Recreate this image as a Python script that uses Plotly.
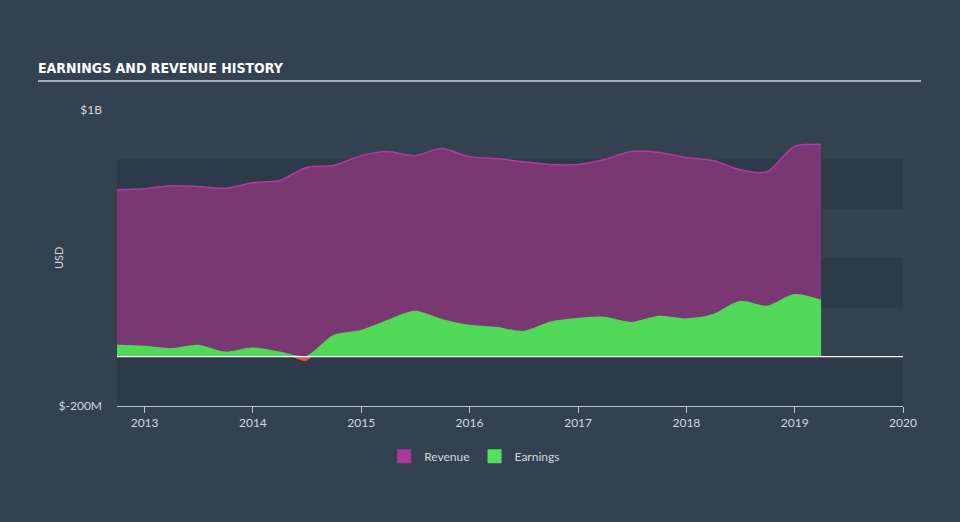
import plotly.graph_objects as go
import pandas as pd

# Quarter-end dates
dates = pd.date_range("2012-09-30", "2019-03-31", freq="QE").strftime("%Y-%m-%d").tolist()

# Revenue (USD millions)
revenue = [677, 681, 693, 690, 683, 705, 714, 767, 775, 815, 832, 815, 844,
           811, 803, 790, 779, 779, 799, 832, 828, 807, 795, 758, 750, 852, 860]
# Earnings (USD millions)
earnings = [45, 41, 32, 45, 18, 34, 18, -16, 85, 105, 146, 183, 150,
            126, 118, 101, 140, 154, 159, 138, 163, 153, 170, 223, 204, 251, 228]

x_tick_vals = ["2013-01-01", "2014-01-01", "2015-01-01", "2016-01-01",
               "2017-01-01", "2018-01-01", "2019-01-01", "2020-01-01"]
x_tick_text = ["2013", "2014", "2015", "2016", "2017", "2018", "2019", "2020"]
y_tick_vals = [-200e6, 1000e6]
y_tick_text = ["$-200M", "$1B"]
band_ranges = [(-200e6, 0), (200e6, 400e6), (600e6, 800e6)]

BG = "#334150"
BAND = "#2d3a49"
TXT = "#d3d7dc"
FONT = "Lato, Noto Sans, sans-serif"

rev_usd = [v * 1e6 for v in revenue]
earn_pos = [max(v, 0) * 1e6 for v in earnings]

# loss segment with zero crossings interpolated
dt = pd.to_datetime(dates)
loss_x, loss_y = [], []
for i, v in enumerate(earnings):
    if v < 0:
        if i > 0 and not loss_x:
            a = earnings[i - 1]
            f = a / (a - v)
            loss_x.append(dt[i - 1] + (dt[i] - dt[i - 1]) * f)
            loss_y.append(0)
        loss_x.append(dt[i])
        loss_y.append(v * 1e6)
        if i + 1 < len(earnings) and earnings[i + 1] >= 0:
            b = earnings[i + 1]
            f = (-v) / (b - v)
            loss_x.append(dt[i] + (dt[i + 1] - dt[i]) * f)
            loss_y.append(0)

fig = go.Figure()
fig.add_trace(go.Scatter(
    x=dates, y=rev_usd, name="Revenue", mode="lines", showlegend=False,
    line=dict(color="#b5399f", width=1.5, shape="spline", smoothing=0.8),
    fill="tozeroy", fillcolor="#7a3873"))
fig.add_trace(go.Scatter(
    x=dates, y=earn_pos, name="Earnings", mode="lines", showlegend=False,
    line=dict(color="#52d558", width=1.5, shape="spline", smoothing=0.8),
    fill="tozeroy", fillcolor="#52d858"))
fig.add_trace(go.Scatter(
    x=loss_x, y=loss_y, name="Loss", mode="lines", showlegend=False,
    line=dict(color="#e8504e", width=1, shape="spline", smoothing=1),
    fill="tozeroy", fillcolor="#e8504e"))
# legend entries with square swatches
fig.add_trace(go.Scatter(x=[None], y=[None], name="Revenue", mode="markers",
                         marker=dict(symbol="square", size=14, color="#a93a98")))
fig.add_trace(go.Scatter(x=[None], y=[None], name="Earnings", mode="markers",
                         marker=dict(symbol="square", size=14, color="#53e05a")))

shapes = []
for y0, y1 in band_ranges:
    shapes.append(dict(type="rect", xref="paper", yref="y", x0=0, x1=1, y0=y0, y1=y1,
                       fillcolor=BAND, line=dict(width=0), layer="below"))
shapes.append(dict(type="line", xref="paper", yref="y", x0=0, x1=1, y0=0, y1=0,
                   line=dict(color="#ffffff", width=1.2), layer="above"))
shapes.append(dict(type="line", xref="paper", yref="paper",
                   x0=(38 - 117) / 786, x1=(921 - 117) / 786,
                   y0=(406 - 81) / 296, y1=(406 - 81) / 296,
                   line=dict(color="#a9afb7", width=2)))

fig.update_layout(
    width=960, height=522,
    margin=dict(l=117, r=57, t=110, b=116),
    paper_bgcolor=BG, plot_bgcolor=BG,
    shapes=shapes,
    showlegend=True,
    legend=dict(orientation="h", x=0.455, xanchor="center", y=-0.17, yanchor="middle",
                font=dict(color=TXT, size=12, family=FONT),
                bgcolor="rgba(0,0,0,0)", itemwidth=30),
    title=dict(text="<b>EARNINGS AND REVENUE HISTORY</b>", xref="container", yref="container",
               x=38 / 960, xanchor="left", y=1 - 68 / 522, yanchor="middle",
               font=dict(color="#ffffff", size=14, family="DejaVu Sans Condensed, sans-serif")),
    font=dict(family=FONT, color=TXT),
    annotations=[dict(text="USD", xref="paper", yref="paper",
                      x=(58 - 117) / 786, y=(406 - 258) / 296, textangle=-90,
                      showarrow=False, xanchor="center", yanchor="middle",
                      font=dict(size=11, color=TXT, family=FONT))],
)
fig.update_xaxes(
    type="date", range=["2012-09-30", "2020-01-01"],
    tickvals=x_tick_vals, ticktext=x_tick_text,
    showgrid=False, zeroline=False,
    showline=True, linecolor="#b9c3cf", linewidth=1,
    ticks="outside", ticklen=6, tickcolor="#b9c3cf",
    tickfont=dict(size=12, color=TXT),
)
fig.update_yaxes(
    range=[-200e6, 1000e6], tickvals=y_tick_vals, ticktext=y_tick_text,
    showgrid=False, zeroline=False,
    showline=False, ticks="", ticklabelstandoff=14,
    tickfont=dict(size=12, color=TXT),
)

fig.write_html("out.html")
